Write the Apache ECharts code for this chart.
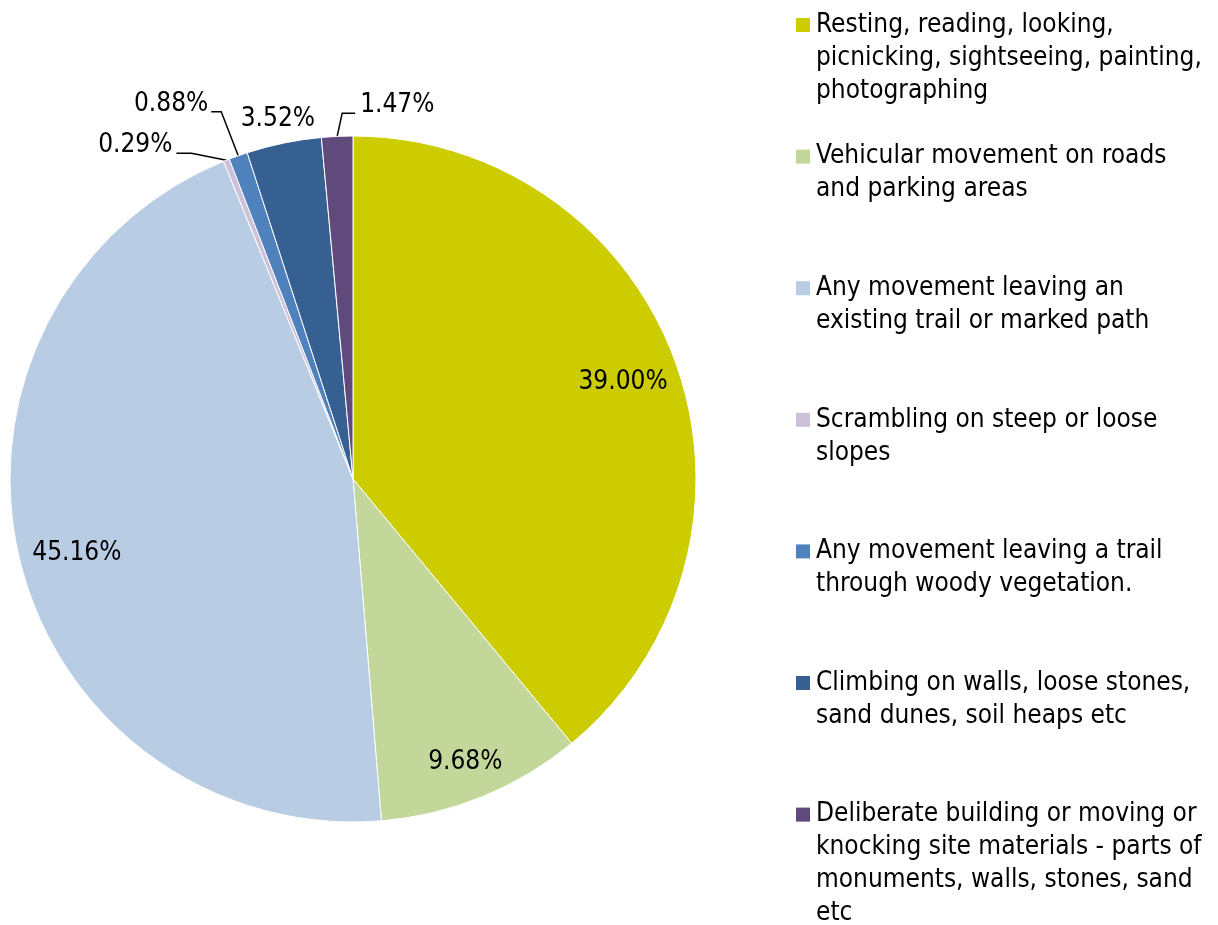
<!DOCTYPE html>
<html>
<head>
<meta charset="utf-8">
<style>
  html, body { margin: 0; padding: 0; background: #ffffff; }
  #chart { width: 1218px; height: 925px; }
</style>
<script src="https://cdn.jsdelivr.net/npm/echarts@6/dist/echarts.min.js"></script>
</head>
<body>
<div id="chart"></div>
<script>
// Activity categories (line breaks follow the legend wrapping)
const categories = [
  'Resting, reading, looking,\npicnicking, sightseeing, painting,\nphotographing',
  'Vehicular movement on roads\nand parking areas',
  'Any movement leaving an\nexisting trail or marked path',
  'Scrambling on steep or loose\nslopes',
  'Any movement leaving a trail\nthrough woody vegetation.',
  'Climbing on walls, loose stones,\nsand dunes, soil heaps etc',
  'Deliberate building or moving or\nknocking site materials - parts of\nmonuments, walls, stones, sand\netc'
];

// Share of observed activities, in percent
const shares = [39.00, 9.68, 45.16, 0.29, 0.88, 3.52, 1.47];

// Slices whose percentage sits inside the pie
const insideLabelled = [0, 1, 2];

const colors = ['#CCCC00', '#C4D79B', '#B8CCE4', '#CCC0DA', '#4F81BD', '#366092', '#604A7B'];

const FONT = '"DejaVu Sans Condensed", "DejaVu Sans", Tahoma, Verdana, sans-serif';
const FS = 26;
const CENTER = [353, 479];
const R = 343;

// Placement of the small-slice callouts, relative to each slice's edge anchor:
// bend/end of the leader line, text anchor and alignment.
const calloutPlacement = {
  3: { bend: [-35, -7], end: [-50, -7], text: [-54, -15], align: 'right' },
  4: { bend: [-17, -44], end: [-27, -44], text: [-30, -52], align: 'right' },
  5: { bend: null, end: null, text: [-6, -24], align: 'center' },
  6: { bend: [5, -23], end: [18, -23], text: [23, -31], align: 'left' }
};

const chart = echarts.init(document.getElementById('chart'), null, { renderer: 'canvas' });

const pct = v => v.toFixed(2) + '%';

const mainData = categories.map((name, i) => ({
  name,
  value: shares[i],
  itemStyle: { color: colors[i] },
  label: { show: !insideLabelled.includes(i) },
  labelLine: { show: !insideLabelled.includes(i) && i !== 5 }
}));

const ringData = categories.map((name, i) => ({
  name,
  value: shares[i],
  label: { show: insideLabelled.includes(i) }
}));

// One legend block per category, stacked at an even pitch
const legendPitch = 131.6;
const legendTop = 12;
const rich = {
  gap: { width: 6 },
  ind: { width: 20 },
  t: { fontFamily: FONT, fontSize: FS, lineHeight: 33, color: '#000' }
};
colors.forEach((c, i) => {
  rich['sq' + i] = { width: 14, height: 14, backgroundColor: c };
});

const legends = categories.map((name, i) => ({
  data: [name],
  orient: 'vertical',
  left: 795 - 5,
  top: legendTop + i * legendPitch,
  padding: 0,
  itemWidth: 0,
  itemHeight: 0,
  icon: 'rect',
  selectedMode: false,
  textStyle: { rich, color: '#000', fontFamily: FONT, fontSize: FS },
  formatter: n => {
    const idx = categories.indexOf(n);
    return n.split('\n').map((line, k) =>
      (k === 0 ? '{sq' + idx + '|}{gap|}' : '{ind|}') + '{t|' + line + '}'
    ).join('\n');
  }
}));

chart.setOption({
  animation: false,
  backgroundColor: '#ffffff',
  legend: legends,
  series: [
    {
      name: 'activities',
      type: 'pie',
      center: CENTER,
      radius: R,
      startAngle: 90,
      clockwise: true,
      avoidLabelOverlap: false,
      itemStyle: { borderColor: '#ffffff', borderWidth: 1 },
      label: {
        position: 'outside',
        formatter: p => pct(p.value),
        fontFamily: FONT,
        fontSize: FS,
        color: '#000'
      },
      labelLine: {
        length: 12,
        length2: 12,
        lineStyle: { color: '#000', width: 1.5 }
      },
      labelLayout: p => {
        const c = calloutPlacement[p.dataIndex];
        if (!c || !p.labelLinePoints) return {};
        const a = p.labelLinePoints[0];
        const out = {
          x: a[0] + c.text[0],
          y: a[1] + c.text[1],
          align: c.align,
          verticalAlign: 'middle'
        };
        if (c.bend) {
          out.labelLinePoints = [
            [a[0], a[1]],
            [a[0] + c.bend[0], a[1] + c.bend[1]],
            [a[0] + c.end[0], a[1] + c.end[1]]
          ];
        }
        return out;
      },
      emphasis: { disabled: true },
      data: mainData
    },
    {
      name: 'inner labels',
      type: 'pie',
      center: CENTER,
      radius: [225, R],
      startAngle: 90,
      clockwise: true,
      silent: true,
      itemStyle: { color: 'rgba(0,0,0,0)' },
      label: {
        position: 'inside',
        formatter: p => pct(p.value),
        fontFamily: FONT,
        fontSize: FS,
        color: '#000'
      },
      labelLine: { show: false },
      labelLayout: p => (p.dataIndex === 1 ? { dx: 4, dy: 17 } : p.dataIndex === 2 ? { dx: 3, dy: 7 } : {}),
      emphasis: { disabled: true },
      data: ringData
    }
  ]
});
</script>
</body>
</html>
